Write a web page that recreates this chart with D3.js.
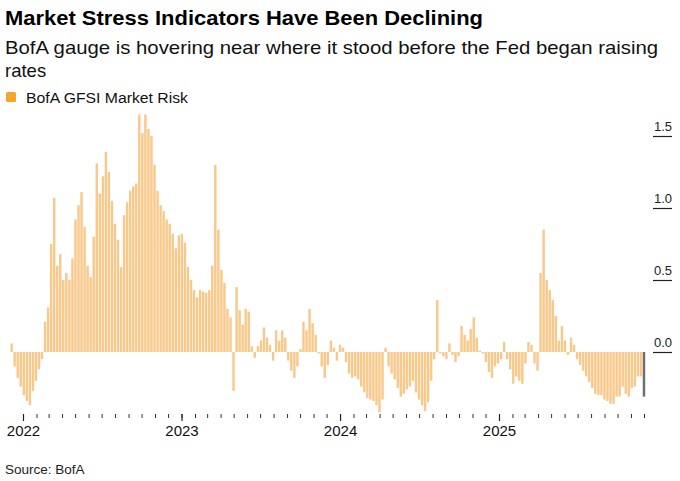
<!DOCTYPE html>
<html><head><meta charset="utf-8">
<script src="https://cdn.jsdelivr.net/npm/d3@7"></script>
<style>
html,body{margin:0;padding:0;background:#fff;}
svg{display:block;font-family:"Liberation Sans", Arial, sans-serif;}
</style></head><body>
<svg id="c" width="680" height="481"></svg>
<script>
const title = "Market Stress Indicators Have Been Declining";
const subtitleLines = ["BofA gauge is hovering near where it stood before the Fed began raising", "rates"];
const seriesName = "BofA GFSI Market Risk";
const sourceText = "Source: BofA";
const startDate = "2021-12-03"; // first weekly observation
const values = [
 0.06,-0.10,-0.18,-0.24,-0.30,-0.34,-0.37,-0.27,-0.20,-0.12,
-0.05, 0.21, 0.31, 0.75, 1.07, 0.60, 0.68, 0.50, 0.55, 0.50,
 0.65, 0.92, 1.02, 1.11, 0.87, 0.60, 0.52, 0.80, 1.31, 1.10,
 1.22, 1.39, 1.25, 1.05, 0.89, 0.78, 0.59, 0.95, 1.04, 1.12,
 1.15, 1.17, 1.65, 1.52, 1.65, 1.55, 1.50, 1.30, 1.12, 1.02,
 0.98, 0.92, 0.89, 0.82, 0.72, 0.81, 0.82, 0.76, 0.59, 0.50,
 0.43, 0.38, 0.43, 0.42, 0.41, 0.43, 0.60, 1.30, 0.85, 0.57,
 0.48, 0.30, 0.24,-0.27, 0.45, 0.29, 0.19, 0.30, 0.28, 0.04,
-0.04, 0.04, 0.08, 0.17, 0.10, 0.05,-0.06, 0.15, 0.08, 0.15,
 0.10,-0.06,-0.13,-0.18,-0.10, 0.02, 0.21, 0.15, 0.30, 0.20,
 0.12,-0.01,-0.10,-0.18,-0.09, 0.08, 0.03,-0.06, 0.05, 0.03,
-0.07,-0.15,-0.18,-0.17,-0.19,-0.24,-0.28,-0.32,-0.33,-0.34,
-0.37,-0.42,-0.33, 0.03,-0.10,-0.15,-0.19,-0.25,-0.31,-0.29,
-0.26,-0.24,-0.20,-0.28,-0.33,-0.37,-0.41,-0.35,-0.20,-0.05,
 0.36,-0.01,-0.03,-0.05, 0.06,-0.02,-0.07,-0.03, 0.18, 0.12,
 0.08, 0.16, 0.24, 0.10, 0.01,-0.01,-0.07,-0.14,-0.18,-0.10,
-0.08,-0.05, 0.07,-0.05,-0.12,-0.22,-0.17,-0.20,-0.22,-0.08,
 0.07, 0.05,-0.08,-0.13, 0.55, 0.85, 0.50, 0.43, 0.36, 0.25,
 0.08, 0.18, 0.08,-0.02, 0.10, 0.05,-0.05,-0.09,-0.13,-0.17,
-0.21,-0.25,-0.29,-0.30,-0.30,-0.33,-0.34,-0.36,-0.36,-0.31,
-0.31,-0.24,-0.29,-0.31,-0.25,-0.24,-0.17,-0.17,-0.31
];
const latestCount = 1; // most recent observation drawn in grey
const yTicks = [0, 0.5, 1.0, 1.5];
const yearTicks = ["2022-01-01","2023-01-01","2024-01-01","2025-01-01"];

const barColor = "#f9c98c", latestColor = "#6e6e6e", legendColor = "#f5a52a";
const parse = d3.timeParse("%Y-%m-%d");
const data = values.map((v,i)=>({date: d3.timeWeek.offset(parse(startDate), i), v, latest: i >= values.length - latestCount}));

const svg = d3.select("#c");
const x = d3.scaleTime().domain([parse("2022-01-01"), parse("2025-01-01")]).range([23, 499]);
const y = d3.scaleLinear().domain([0, 1.5]).range([352, 136]);

// titles
svg.append("text").attr("x",5).attr("y",25).attr("font-size",21).attr("font-weight","bold")
  .attr("fill","#000").attr("textLength",478).attr("lengthAdjust","spacingAndGlyphs").text(title);
svg.append("text").attr("x",5).attr("y",54).attr("font-size",18.5).attr("fill","#111")
  .attr("textLength",653).attr("lengthAdjust","spacingAndGlyphs").text(subtitleLines[0]);
svg.append("text").attr("x",5).attr("y",77).attr("font-size",18.5).attr("fill","#111").text(subtitleLines[1]);

// legend
svg.append("rect").attr("x",6).attr("y",92).attr("width",10).attr("height",10).attr("rx",1.5).attr("fill",legendColor);
svg.append("text").attr("x",26).attr("y",103).attr("font-size",14).attr("fill","#111")
  .attr("textLength",162).attr("lengthAdjust","spacingAndGlyphs").text(seriesName);

// bars
const step = d => x(d3.timeWeek.offset(d.date,1)) - x(d.date);
svg.append("g").selectAll("rect").data(data).join("rect")
  .attr("x", d => x(d.date))
  .attr("width", d => step(d) - 0.6)
  .attr("y", d => Math.min(y(d.v), y(0)))
  .attr("height", d => Math.abs(y(d.v) - y(0)))
  .attr("fill", d => d.latest ? latestColor : barColor);

// y axis (labels on the right with short rule under each)
const yAxis = svg.append("g").attr("transform","translate(653,0)")
  .call(d3.axisRight(y).tickValues(yTicks).tickSize(19).tickFormat(d3.format(".1f")));
yAxis.select(".domain").remove();
yAxis.selectAll(".tick line").attr("stroke","#222").attr("stroke-width",1.2);
yAxis.selectAll(".tick text").attr("x",19).attr("dy",-6).attr("text-anchor","end")
  .attr("font-size",13).attr("fill","#222").attr("font-family","Liberation Sans, Arial, sans-serif");

// x axis: monthly minor ticks, yearly major ticks with labels
const months = d3.timeMonth.range(parse("2022-01-01"), parse("2025-12-02"));
const xMinor = svg.append("g").attr("transform","translate(0,414)")
  .call(d3.axisBottom(x).tickValues(months).tickSize(4).tickFormat(""));
xMinor.select(".domain").remove();
xMinor.selectAll(".tick line").attr("stroke","#333").attr("stroke-width",1);
const xMajor = svg.append("g").attr("transform","translate(0,414)")
  .call(d3.axisBottom(x).tickValues(yearTicks.map(parse)).tickSize(7).tickFormat(d3.timeFormat("%Y")));
xMajor.select(".domain").remove();
xMajor.selectAll(".tick line").attr("stroke","#222").attr("stroke-width",1.2);
xMajor.selectAll(".tick text").attr("y",22).attr("dy",0).attr("font-size",15).attr("fill","#111")
  .attr("font-family","Liberation Sans, Arial, sans-serif");

// source
svg.append("text").attr("x",5).attr("y",474).attr("font-size",13.5).attr("fill","#222").text(sourceText);
</script>
</body></html>
